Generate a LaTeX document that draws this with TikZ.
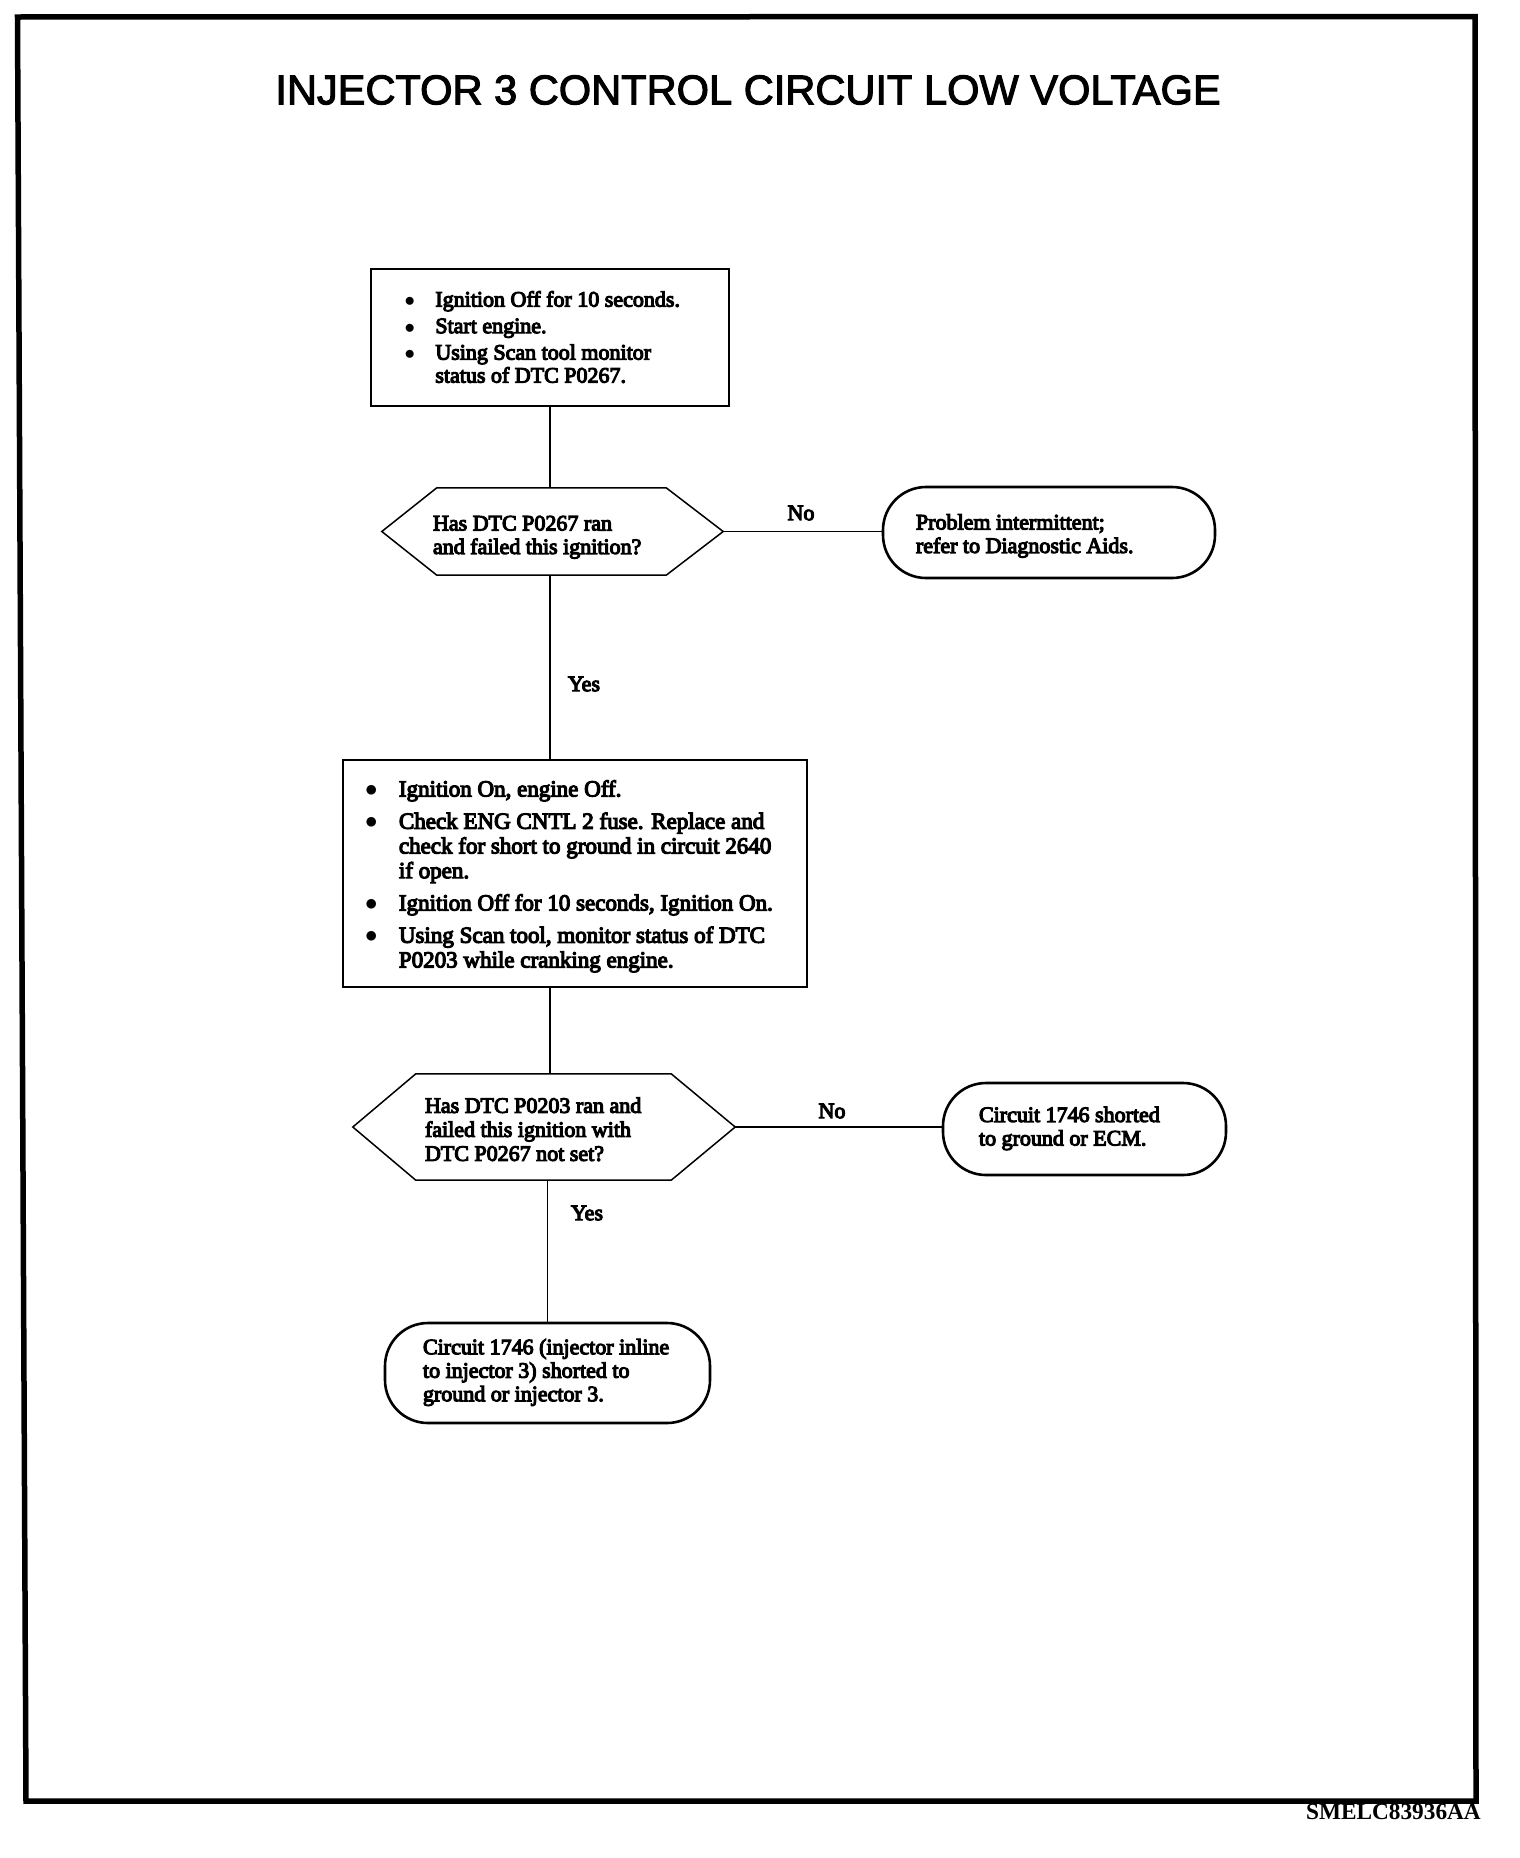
\documentclass[tikz,border=0pt]{standalone}
\usepackage{fontspec}
\setmainfont{Liberation Serif}[FakeBold=5]
\newfontfamily\titlefont{Liberation Sans}[FakeBold=2.5]
\newfontfamily\codefont{Liberation Serif Bold}
\newcommand{\bul}{$\bullet$}
\newcommand{\dn}[2]{\raisebox{-#1}[\height][\depth]{#2}}
\tikzset{
  body/.style={font=\fontsize{22}{23.5}\selectfont},
  procbox/.style={draw, line width=1.8pt, inner sep=0pt, body},
  hexnode/.style={draw=none, inner sep=0pt, body},
  hexline/.style={line width=1.5pt, line join=miter},
  termbox/.style={draw, line width=2.6pt, rounded corners=43pt, inner sep=0pt, body},
  conn/.style={line width=1.8pt},
  lab/.style={inner sep=0pt, body},
}
\begin{document}
\begin{tikzpicture}[x=1pt,y=-1pt]
\useasboundingbox (0,0) rectangle (1520,1858);
% outer frame
\draw[line width=5.5pt, line join=miter] (17.5,17) -- (1475,16.5) -- (1476,1801) -- (26,1801) -- cycle;
% title
\node[inner sep=0pt, font=\titlefont\fontsize{41.6}{44}\selectfont] (title) at (748,90) {INJECTOR 3 CONTROL CIRCUIT LOW VOLTAGE};
% box 1
\node[procbox, minimum width=358pt, minimum height=137pt] (b1) at (550,337.5)
 {\makebox[358pt][l]{\hspace{33.5pt}\fontsize{22}{23}\selectfont\dn{2.5pt}{\begin{tabular}{@{}l@{\hspace{20.5pt}}l@{}}
 \bul & Ignition Off for 10 seconds.\\[3.5pt]
 \bul & Start engine.\\[3.5pt]
 \bul & Using Scan tool monitor\\
  & status of DTC P0267.
 \end{tabular}}}};
% decision 1
\node[hexnode, minimum width=341pt, minimum height=87pt] (d1) at (552.5,531.5)
 {\makebox[341pt][l]{\hspace{51pt}\dn{6pt}{\begin{tabular}{@{}l@{}}Has DTC P0267 ran\\and failed this ignition?\end{tabular}}}};
\draw[hexline] ([xshift=55pt]d1.north west) -- ([xshift=-57pt]d1.north east) -- (d1.east)
  -- ([xshift=-57pt]d1.south east) -- ([xshift=55pt]d1.south west) -- (d1.west) -- cycle;
% terminal 1
\node[termbox, minimum width=332pt, minimum height=91pt] (t1) at (1049,532.5)
 {\makebox[332pt][l]{\hspace{33pt}\dn{4pt}{\begin{tabular}{@{}l@{}}Problem intermittent;\\refer to Diagnostic Aids.\end{tabular}}}};
% box 2
\node[procbox, minimum width=464pt, minimum height=227pt] (b2) at (575,873.5)
 {\makebox[464pt][l]{\hspace{22pt}\fontsize{23}{24.7}\selectfont\dn{3.5pt}{\begin{tabular}{@{}l@{\hspace{21.5pt}}l@{}}
 \bul & Ignition On, engine Off.\\[7.6pt]
 \bul & Check ENG CNTL 2 fuse. Replace and\\
  & check for short to ground in circuit 2640\\
  & if open.\\[7.6pt]
 \bul & Ignition Off for 10 seconds, Ignition On.\\[7.6pt]
 \bul & Using Scan tool, monitor status of DTC\\
  & P0203 while cranking engine.
 \end{tabular}}}};
% decision 2
\node[hexnode, minimum width=382pt, minimum height=106pt] (d2) at (544,1127)
 {\makebox[382pt][l]{\hspace{72pt}\fontsize{22}{24}\selectfont\dn{5pt}{\begin{tabular}{@{}l@{}}Has DTC P0203 ran and\\failed this ignition with\\DTC P0267 not set?\end{tabular}}}};
\draw[hexline] ([xshift=63pt]d2.north west) -- ([xshift=-64pt]d2.north east) -- (d2.east)
  -- ([xshift=-64pt]d2.south east) -- ([xshift=63pt]d2.south west) -- (d2.west) -- cycle;
% terminal 2
\node[termbox, minimum width=283pt, minimum height=92pt] (t2) at (1084.5,1129)
 {\makebox[283pt][l]{\hspace{36pt}\begin{tabular}{@{}l@{}}Circuit 1746 shorted\\to ground or ECM.\end{tabular}}};
% terminal 3
\node[termbox, minimum width=325pt, minimum height=100pt] (t3) at (547.5,1373)
 {\makebox[325pt][l]{\hspace{38pt}\begin{tabular}{@{}l@{}}Circuit 1746 (injector inline\\to injector 3) shorted to\\ground or injector 3.\end{tabular}}};
% connectors
\draw[conn] (b1.south) -- (b1.south |- d1.north);
\draw[conn] (d1.south -| b1.south) -- (b2.north -| b1.south);
\draw[conn] (d1.east) -- (t1.west |- d1.east);
\draw[conn] (b2.south -| b1.south) -- (d2.north -| b1.south);
\draw[conn] (d2.east) -- (t2.west |- d2.east);
\draw[conn] (d2.south -| t3.north) -- (t3.north);
% labels
\node[lab] (no1) at (801,513) {No};
\node[lab] (yes1) at (584,684) {Yes};
\node[lab] (no2) at (832,1111) {No};
\node[lab] (yes2) at (587,1213) {Yes};
% figure code
\node[inner sep=0pt, anchor=east, font=\codefont\fontsize{23.3}{25}\selectfont] (code) at (1481,1812) {SMELC83936AA};
\end{tikzpicture}
\end{document}
